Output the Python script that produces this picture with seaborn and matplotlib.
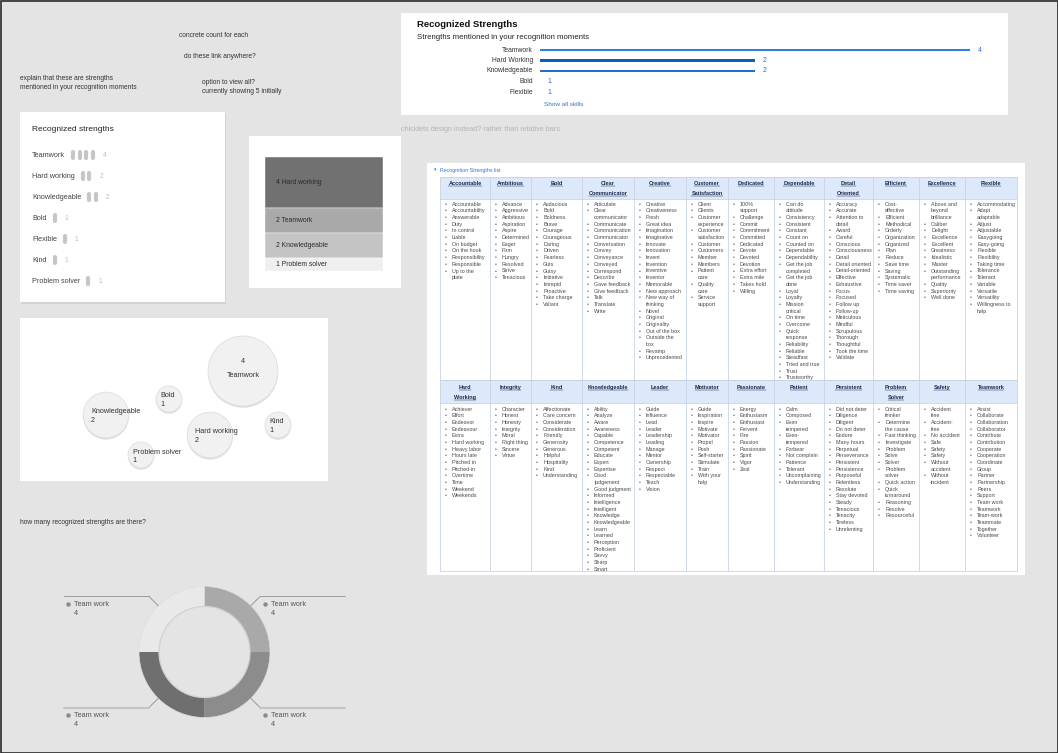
import numpy as np
import matplotlib
matplotlib.use('Agg')
import matplotlib.pyplot as plt
from matplotlib.patches import Rectangle, Circle
import seaborn as sns

bar_names = ['Teamwork', 'Hard Working', 'Knowledgeable', 'Bold', 'Flexible']
bar_counts = [4, 2, 2, 1, 1]
bar_drawn = [4, 2, 2, 0, 0]  # Bold / Flexible show only the number, no bar

chick_names = ['Teamwork', 'Hard working', 'Knowledgeable', 'Bold', 'Flexible', 'Kind', 'Problem solver']
chick_counts = [4, 2, 2, 1, 1, 1, 1]

stack_names = ['Hard working', 'Teamwork', 'Knowledgeable', 'Problem solver']
stack_counts = [4, 2, 2, 1]

bubble_names = ['Teamwork', 'Bold', 'Knowledgeable', 'Hard working', 'Kind', 'Problem solver']
bubble_counts = [4, 1, 2, 2, 1, 1]

donut_labels = ['Team work', 'Team work', 'Team work', 'Team work']
donut_values = [4, 4, 4, 4]

row1_headers = ['Accountable', 'Ambitious', 'Bold', 'Clear\nCommunicator', 'Creative',
                'Customer\nSatisfaction', 'Dedicated', 'Dependable', 'Detail\nOriented',
                'Efficient', 'Excellence', 'Flexible']
row1_items = [
    ['Accountable', 'Accountability', 'Answerable', 'Duty', 'In control', 'Liable', 'On budget',
     'On the hook', 'Responsibility', 'Responsible', 'Up to the\nplate'],
    ['Advance', 'Aggressive', 'Ambitious', 'Aspiration', 'Aspire', 'Determined', 'Eager', 'Firm',
     'Hungry', 'Resolved', 'Strive', 'Tenacious'],
    ['Audacious', 'Bold', 'Boldness', 'Brave', 'Courage', 'Courageous', 'Daring', 'Driven',
     'Fearless', 'Guts', 'Gutsy', 'Initiative', 'Intrepid', 'Proactive', 'Take charge', 'Valiant'],
    ['Articulate', 'Clear\ncommunicator', 'Communicate', 'Communication', 'Communicator',
     'Conversation', 'Convey', 'Conveyance', 'Conveyed', 'Correspond', 'Describe',
     'Gave feedback', 'Give feedback', 'Talk', 'Translate', 'Write'],
    ['Creative', 'Creativeness', 'Fresh', 'Great idea', 'Imagination', 'Imaginative', 'Innovate',
     'Innovation', 'Invent', 'Invention', 'Inventive', 'Inventor', 'Memorable', 'New approach',
     'New way of\nthinking', 'Novel', 'Original', 'Originality', 'Out of the box',
     'Outside the\nbox', 'Revamp', 'Unprecedented'],
    ['Client', 'Clients', 'Customer\nexperience', 'Customer\nsatisfaction', 'Customer',
     'Customers', 'Member', 'Members', 'Patient\ncare', 'Quality\ncare', 'Service\nsupport'],
    ['100%\nsupport', 'Challenge', 'Commit', 'Commitment', 'Committed', 'Dedicated', 'Devote',
     'Devoted', 'Devotion', 'Extra effort', 'Extra mile', 'Takes hold', 'Willing'],
    ['Can do\nattitude', 'Consistency', 'Consistent', 'Constant', 'Count on', 'Counted on',
     'Dependable', 'Dependability', 'Get the job\ncompleted', 'Get the job\ndone', 'Loyal',
     'Loyalty', 'Mission\ncritical', 'On time', 'Overcome', 'Quick\nresponse', 'Reliability',
     'Reliable', 'Steadfast', 'Tried and true', 'Trust', 'Trustworthy'],
    ['Accuracy', 'Accurate', 'Attention to\ndetail', 'Award', 'Careful', 'Conscious',
     'Consciousness', 'Detail', 'Detail oriented', 'Detail-oriented', 'Effective', 'Exhaustive',
     'Focus', 'Focused', 'Follow up', 'Follow-up', 'Meticulous', 'Mindful', 'Scrupulous',
     'Thorough', 'Thoughtful', 'Took the time', 'Validate'],
    ['Cost-\neffective', 'Efficient', 'Methodical', 'Orderly', 'Organization', 'Organized', 'Plan',
     'Reduce', 'Save time', 'Saving', 'Systematic', 'Time saver', 'Time saving'],
    ['Above and\nbeyond\nbrilliance', 'Caliber', 'Delight', 'Excellence', 'Excellent', 'Greatness',
     'Idealistic', 'Master', 'Outstanding\nperformance', 'Quality', 'Superiority', 'Well done'],
    ['Accommodating', 'Adapt\nadaptable', 'Adjust', 'Adjustable', 'Easygoing', 'Easy-going',
     'Flexible', 'Flexibility', 'Taking time', 'Tolerance', 'Tolerant', 'Variable', 'Versatile',
     'Versatility', 'Willingness to\nhelp'],
]

row2_headers = ['Hard\nWorking', 'Integrity', 'Kind', 'Knowledgeable', 'Leader', 'Motivator',
                'Passionate', 'Patient', 'Persistent', 'Problem\nSolver', 'Safety', 'Teamwork']
row2_items = [
    ['Achiever', 'Effort', 'Endeavor', 'Endeavour', 'Extra', 'Hard working', 'Heavy labor',
     'Hours late', 'Pitched in', 'Pitched-in', 'Overtime', 'Time', 'Weekend', 'Weekends'],
    ['Character', 'Honest', 'Honesty', 'Integrity', 'Moral', 'Right thing', 'Sincere', 'Virtue'],
    ['Affectionate', 'Care concern', 'Considerate', 'Consideration', 'Friendly', 'Generosity',
     'Generous', 'Helpful', 'Hospitality', 'Kind', 'Understanding'],
    ['Ability', 'Analyze', 'Aware', 'Awareness', 'Capable', 'Competence', 'Competent', 'Educate',
     'Expert', 'Expertise', 'Good\njudgement', 'Good judgment', 'Informed', 'Intelligence',
     'Intelligent', 'Knowledge', 'Knowledgeable', 'Learn', 'Learned', 'Perception', 'Proficient',
     'Savvy', 'Sharp', 'Smart'],
    ['Guide', 'Influence', 'Lead', 'Leader', 'Leadership', 'Leading', 'Manage', 'Mentor',
     'Ownership', 'Respect', 'Respectable', 'Teach', 'Vision'],
    ['Guide', 'Inspiration', 'Inspire', 'Motivate', 'Motivator', 'Propel', 'Push', 'Self-starter',
     'Stimulate', 'Train', 'With your\nhelp'],
    ['Energy', 'Enthusiasm', 'Enthusiast', 'Fervent', 'Fire', 'Passion', 'Passionate', 'Spirit',
     'Vigor', 'Zeal'],
    ['Calm', 'Composed', 'Even\ntempered', 'Even-\ntempered', 'Forbear', 'Not complain',
     'Patience', 'Tolerant', 'Uncomplaining', 'Understanding'],
    ['Did not deter', 'Diligence', 'Diligent', 'Do not deter', 'Endure', 'Many hours', 'Perpetual',
     'Perseverance', 'Persistent', 'Persistence', 'Purposeful', 'Relentless', 'Resolute',
     'Stay devoted', 'Steady', 'Tenacious', 'Tenacity', 'Tireless', 'Unrelenting'],
    ['Critical\nthinker', 'Determine\nthe cause', 'Fast thinking', 'Investigate', 'Problem',
     'Solve', 'Solver', 'Problem\nsolver', 'Quick action', 'Quick\nturnaround', 'Reasoning',
     'Resolve', 'Resourceful'],
    ['Accident\nfree', 'Accident-\nfree', 'No accident', 'Safe', 'Safety', 'Safety',
     'Without\naccident', 'Without\nincident'],
    ['Assist', 'Collaborate', 'Collaboration', 'Collaborator', 'Contribute', 'Contribution',
     'Cooperate', 'Cooperation', 'Coordinate', 'Group', 'Partner', 'Partnership', 'Peers',
     'Support', 'Team work', 'Teamwork', 'Team-work', 'Teammate', 'Together', 'Volunteer'],
]

# layout (pixels of the 1058x753 board)
W, H = 1058, 753
BG = '#e4e4e4'
bubble_x = [243, 169, 106, 210, 278, 141]
bubble_y = [371, 399, 415, 435, 425, 455]
col_x = [440, 490, 531, 582, 634, 686, 728, 774, 824, 873, 919, 965, 1017]

sns.set_theme(style='white')
plt.rcParams['font.family'] = ['Liberation Sans', 'DejaVu Sans']

fig = plt.figure(figsize=(W / 100, H / 100), dpi=100, facecolor=BG)
bg = fig.add_axes([0, 0, 1, 1])
bg.set_xlim(0, W)
bg.set_ylim(H, 0)
bg.axis('off')
renderer = fig.canvas.get_renderer()


def px_axes(x0, y0, x1, y1):
    ax = fig.add_axes([x0 / W, 1 - y1 / H, (x1 - x0) / W, (y1 - y0) / H])
    ax.patch.set_visible(False)
    return ax


def label(x, y, s, size=5, color='#333333', **kw):
    kw.setdefault('ha', 'left')
    kw.setdefault('va', 'center')
    return bg.text(x, y, s, fontsize=size, color=color, **kw)


def card(x0, y0, x1, y1, shadow=False):
    if shadow:
        bg.add_patch(Rectangle((x0 + 0.5, y0 + 1.5), x1 - x0, y1 - y0, fc='#d3d3d3', ec='none'))
    bg.add_patch(Rectangle((x0, y0), x1 - x0, y1 - y0, fc='white', ec='none'))


# sticky notes
label(179, 35, 'concrete count for each', 4.8)
label(184, 56, 'do these link anywhere?', 4.8)
label(20, 78, 'explain that these are strengths', 4.8)
label(20, 87, 'mentioned in your recognition moments', 4.8)
label(202, 82, 'option to view all?', 4.8)
label(202, 91, 'currently showing 5 initially', 4.8)
label(401, 129, 'chicklets design instead? rather than relative bars', 5.2, '#b3b3b3')
label(20, 522, 'how many recognized strengths are there?', 4.8)

# ---- relative bars card
card(401, 13, 1008, 115)
label(417, 24, 'Recognized Strengths', 6.8, '#111111', weight='bold')
label(417, 37, 'Strengths mentioned in your recognition moments', 5.6, '#222222')
ax = px_axes(540, 44.75, 970, 97.25)
sns.barplot(x=bar_drawn, y=bar_names, hue=bar_names, orient='h', width=0.26, saturation=1,
            palette=['#2d80e0', '#0a5ec2', '#1d70d4', '#1d70d4', '#1d70d4'],
            linewidth=0, legend=False, ax=ax)
ax.set_xlim(0, 4)
ax.set_ylim(len(bar_names) - 0.5, -0.5)
ax.axis('off')
for i, (n, c, d) in enumerate(zip(bar_names, bar_counts, bar_drawn)):
    ax.annotate(n, xy=(0, i), xytext=(-5, 0), textcoords='offset points', ha='right',
                va='center', fontsize=4.9, color='#333333', annotation_clip=False)
    ax.annotate(str(c), xy=(d, i), xytext=(5.5, 0), textcoords='offset points', ha='left',
                va='center', fontsize=4.9, color='#1f6fd1', annotation_clip=False)
label(544, 104, 'Show all skills', 4.6, '#2b76d6')

# ---- chicklets card
card(20, 112, 225, 302, shadow=True)
label(32, 129, 'Recognized strengths', 6, '#222222')
for i, (n, c) in enumerate(zip(chick_names, chick_counts)):
    y = 155 + i * 21
    t = label(32, y, n, 5.2, '#444444')
    x0 = t.get_window_extent(renderer=renderer).x1 + 8
    xs = x0 + np.arange(c) * 6.6
    bg.vlines(xs, y - 2.8, y + 2.8, colors='#c6c6c6', lw=3.0, capstyle='round')
    label(xs[-1] + 10, y, str(c), 4.8, '#bdbdbd')

# ---- stacked block card
card(249, 136, 401, 288)
ax = px_axes(265, 157, 383, 271)
bottoms = np.cumsum([0] + stack_counts[:-1])
ax.bar(np.zeros(len(stack_counts)), stack_counts, bottom=bottoms, width=1,
       color=['#717171', '#a9a9a9', '#c4c4c4', '#efefef'], edgecolor='white', linewidth=0.3)
ax.set_xlim(-0.5, 0.5)
ax.set_ylim(sum(stack_counts), 0)
ax.axis('off')
for n, c, b in zip(stack_names, stack_counts, bottoms):
    ax.annotate(f'{c} {n}', xy=(-0.5, b + c / 2), xytext=(8, 0), textcoords='offset points',
                va='center', fontsize=4.9, color='#2a2a2a')

# ---- bubbles card
card(20, 318, 328, 481)
ax = px_axes(20, 318, 328, 481)
smin, smax = 350, 2540
sns.scatterplot(x=bubble_x, y=[v + 1.8 for v in bubble_y], size=bubble_counts, sizes=(smin, smax),
                size_norm=(1, 4), color='#d4d4d4', alpha=0.7, linewidth=0, legend=False, ax=ax)
sns.scatterplot(x=bubble_x, y=bubble_y, size=bubble_counts, sizes=(smin, smax), size_norm=(1, 4),
                color='#f1f1f1', edgecolor='#dedede', linewidth=0.6, legend=False, ax=ax)
ax.set_xlim(20, 328)
ax.set_ylim(481, 318)
ax.axis('off')
for n, c, bx, by in zip(bubble_names, bubble_counts, bubble_x, bubble_y):
    s = smin + (c - 1) / 3 * (smax - smin)
    r = np.sqrt(s) / 2 * 100 / 72
    if c == max(bubble_counts):
        ax.text(bx, by - 9, str(c), ha='center', va='center', fontsize=5.2, color='#333333')
        ax.text(bx, by + 5, n, ha='center', va='center', fontsize=5.2, color='#333333')
    else:
        ax.text(bx - 0.65 * r, by - 3, n, ha='left', va='center', fontsize=5.2,
                color='#333333', clip_on=False)
        ax.text(bx - 0.65 * r, by + 6, str(c), ha='left', va='center', fontsize=5.2,
                color='#333333', clip_on=False)

# ---- donut
cx, cy, ro = 204.5, 652, 65.5
ax = px_axes(cx - ro, cy - ro, cx + ro, cy + ro)
wedges, _ = ax.pie(donut_values, colors=['#a9a9a9', '#8c8c8c', '#6f6f6f', '#e9e9e9'],
                   startangle=90, counterclock=False, radius=1,
                   wedgeprops=dict(width=0.305, edgecolor='none'))
ax.add_patch(Circle((0, 0), 0.695, fill=False, ec='#d2d2d2', lw=0.9))
ax.add_patch(Circle((0, 0), 1.0, fill=False, ec='#dcdcdc', lw=0.5))
ax.set_xlim(-1, 1)
ax.set_ylim(-1, 1)
ax.axis('off')
for w, lab, v in zip(wedges, donut_labels, donut_values):
    th = np.deg2rad((w.theta1 + w.theta2) / 2)
    ux, uy = np.cos(th), np.sin(th)
    ex, ey = 1.2 * ux, 1.2 * uy
    end = 2.15 * np.sign(ux)
    top = uy > 0
    ax.plot([ux, ex], [uy, ey], color='#999999', lw=0.7, clip_on=False)
    ax.plot([ex, end], [ey, ey], color='#9b9b9b' if top else '#c4c4c4',
            lw=0.7 if top else 1.5, clip_on=False)
    dx = ex + 0.07 if ux > 0 else end + 0.07
    ax.plot(dx, ey - 0.12, 'o', ms=2.2, color='#8a8a8a', clip_on=False)
    ax.text(dx + 0.09, ey - 0.12, lab, ha='left', va='center', fontsize=5.2, color='#555555')
    ax.text(dx + 0.09, ey - 0.26, str(v), ha='left', va='center', fontsize=5.2, color='#555555')

# ---- strengths list table
card(427, 163, 1025, 575)
label(434, 170, '\u25be', 3.5, '#3a6fd8')
label(440, 170, 'Recognition Strengths list', 3.8, '#3a6fd8')
grid = '#c9d4e3'
rows = [(177, 199, 380, 183, 204.3, row1_headers, row1_items),
        (380, 402.5, 571, 387, 409, row2_headers, row2_items)]
for top, hb, bot, hy, by0, headers, items in rows:
    bg.add_patch(Rectangle((col_x[0], top), col_x[-1] - col_x[0], hb - top, fc='#dde9fb', ec='none'))
    for yy in (top, hb, bot):
        bg.plot([col_x[0], col_x[-1]], [yy, yy], color=grid, lw=0.6)
    for xx in col_x:
        bg.plot([xx, xx], [top, bot], color=grid, lw=0.6)
    for j, (hdr, its) in enumerate(zip(headers, items)):
        left, right = col_x[j], col_x[j + 1]
        for k, line in enumerate(hdr.split('\n')):
            t = label((left + right) / 2, hy + k * 10, line, 4.0, '#1c2a4d', ha='center',
                      weight='bold')
            e = t.get_window_extent(renderer=renderer)
            bg.plot([e.x0, e.x1], [hy + k * 10 + 3.0] * 2, color='#1c2a4d', lw=0.35)
        y = by0
        for it in its:
            for k, line in enumerate(it.split('\n')):
                if k == 0:
                    label(left + 6, y, '\u2022', 3.6, '#555555', ha='center')
                label(left + 12, y, line, 3.9, '#4a4a4a')
                y += 6.67

bg.add_patch(Rectangle((0.5, 0.5), W - 1, H - 1, fill=False, ec='#2b2b2b', lw=1.2))

fig.savefig('out.png', dpi=100, facecolor=BG)
